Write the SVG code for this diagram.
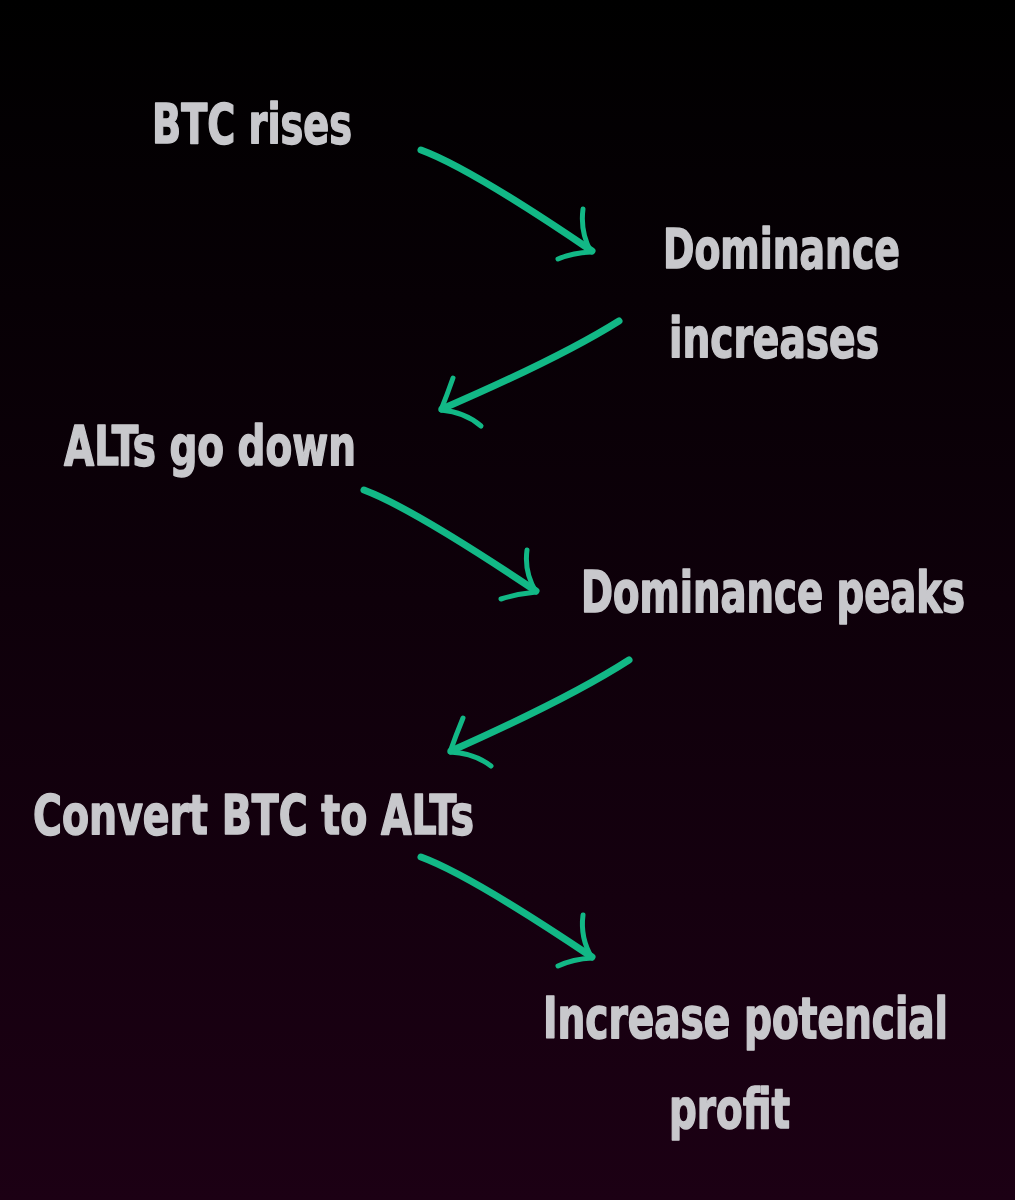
<svg xmlns="http://www.w3.org/2000/svg" width="1015" height="1200" viewBox="0 0 1015 1200">
<defs>
<linearGradient id="bg" x1="0" y1="0" x2="0" y2="1">
<stop offset="0" stop-color="#000000"/>
<stop offset="1" stop-color="#1c0014"/>
</linearGradient>
<style>
.t{font-family:"DejaVu Sans Condensed","DejaVu Sans","Liberation Sans",sans-serif;font-weight:bold;font-stretch:condensed;font-size:56px;fill:#c8c8cc;stroke:#c8c8cc;stroke-width:1.5;stroke-linejoin:round}
.s{font-size:46px;stroke-width:1.3}
.a{fill:none;stroke:#12b886;stroke-width:7;stroke-linecap:round;stroke-linejoin:round}
.h{fill:none;stroke:#12b886;stroke-width:5;stroke-linecap:round;stroke-linejoin:round}
</style>
</defs>
<rect width="1015" height="1200" fill="url(#bg)"/>
<g id="n1"><text class="t" x="152" y="143" textLength="200" lengthAdjust="spacingAndGlyphs">BTC rises</text></g>
<g id="n2"><text class="t" x="663" y="268" textLength="237" lengthAdjust="spacingAndGlyphs">Dominance</text><text class="t" x="669" y="357" textLength="210" lengthAdjust="spacingAndGlyphs">increases</text></g>
<g id="n3"><text class="t" x="64" y="465" textLength="292" lengthAdjust="spacingAndGlyphs">ALTs go down</text></g>
<g id="n4"><text class="t s" transform="translate(581 612) scale(1 1.22)" x="0" y="0" textLength="384" lengthAdjust="spacingAndGlyphs">Dominance peaks</text></g>
<g id="n5"><text class="t" x="33" y="834" textLength="441" lengthAdjust="spacingAndGlyphs">Convert BTC to ALTs</text></g>
<g id="n6"><text class="t s" transform="translate(543 1038) scale(1 1.22)" x="0" y="0" textLength="405" lengthAdjust="spacingAndGlyphs">Increase potencial</text><text class="t" x="669" y="1128" textLength="121" lengthAdjust="spacingAndGlyphs">profit</text></g>
<g id="connectors">
<path class="a" d="M421 150 Q470 168 592 251"/>
<path class="h" d="M583 209 Q580 232 591 252 Q572 253 558 259"/>
<path class="a" d="M619 321 Q560 358 442 409"/>
<path class="h" d="M453 378 Q447 395 441 410 Q465 412 481 426"/>
<path class="a" d="M364 490 Q412 508 536 591"/>
<path class="h" d="M527 550 Q524 572 536 592 Q517 594 501 599"/>
<path class="a" d="M629 660 Q570 698 451 751"/>
<path class="h" d="M463 718 Q456 735 450 752 Q474 753 491 766"/>
<path class="a" d="M421 857 Q470 875 592 957"/>
<path class="h" d="M583 915 Q580 938 592 958 Q573 959 558 966"/>
</g>
</svg>
